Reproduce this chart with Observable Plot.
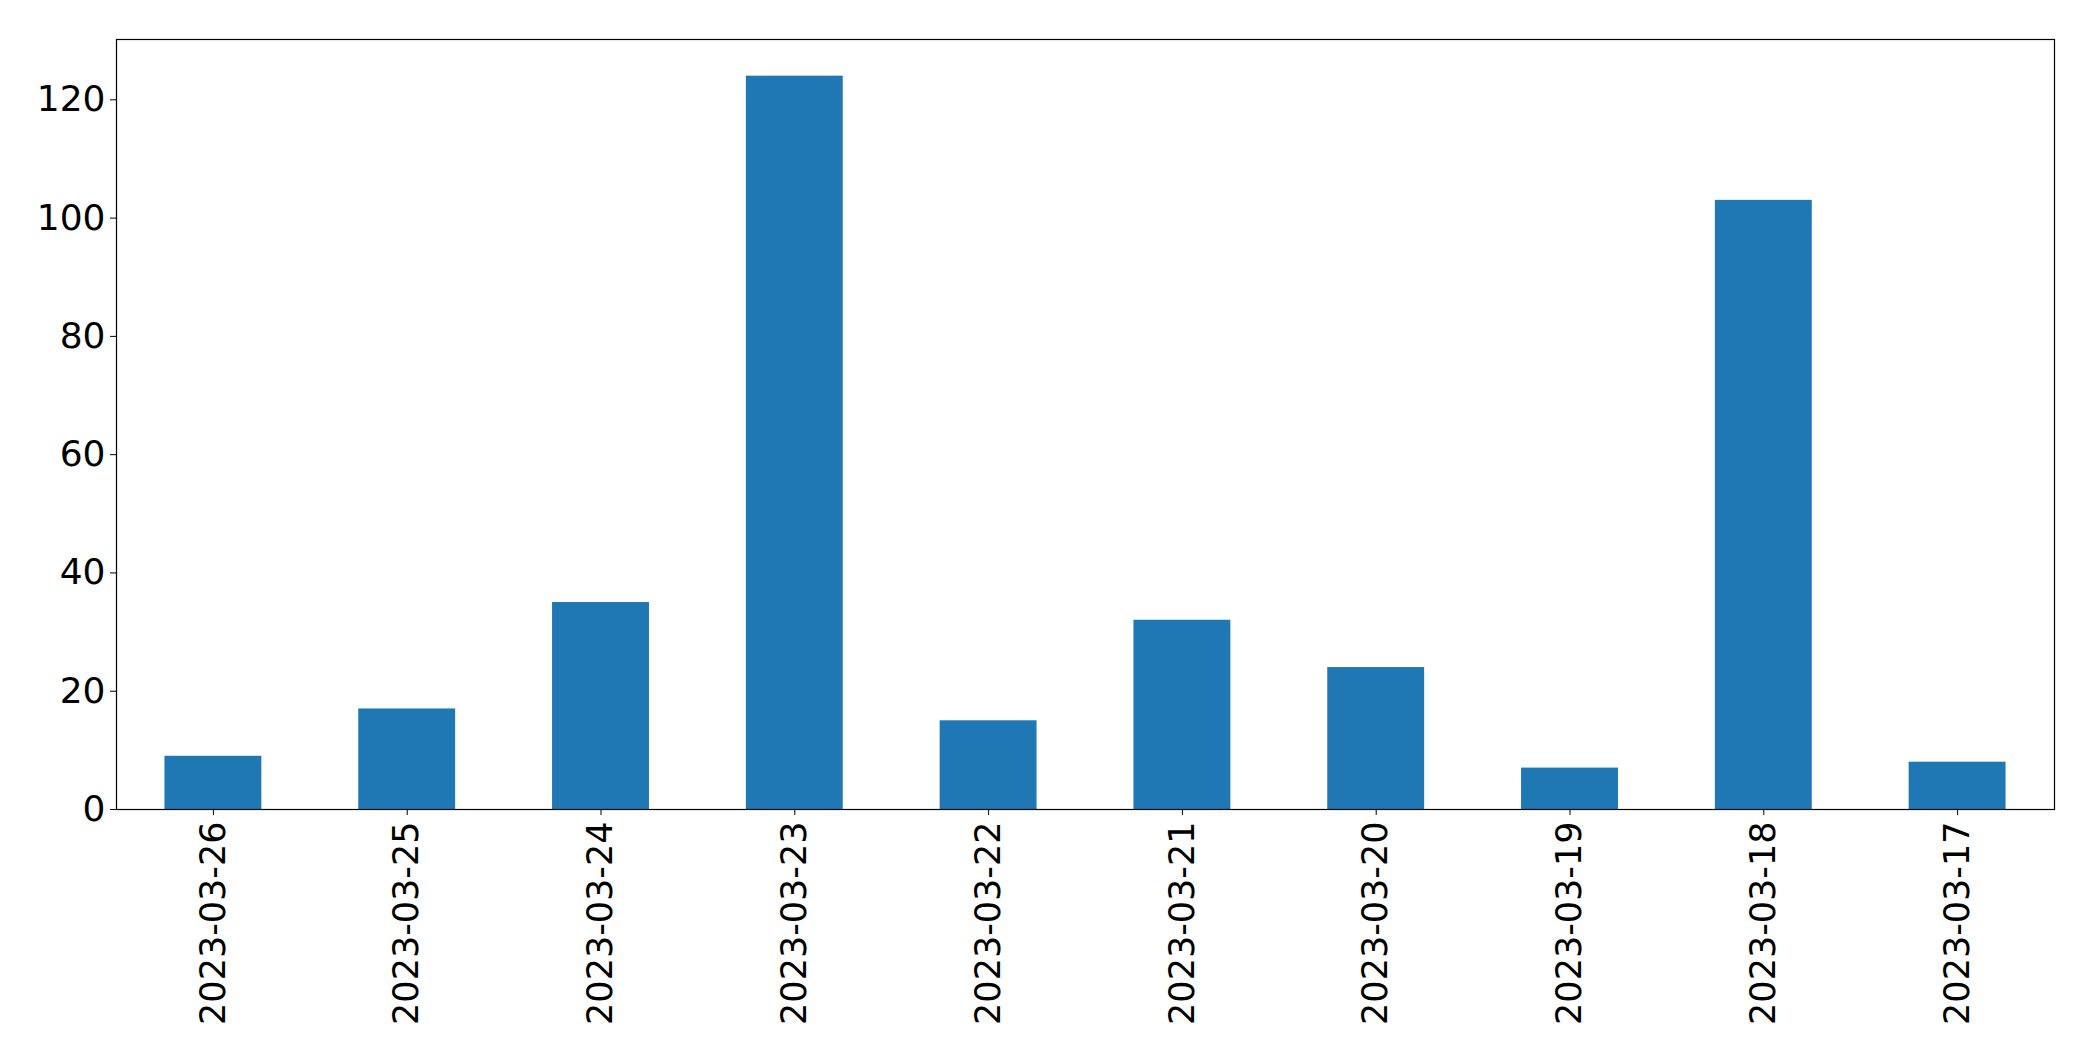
<!DOCTYPE html>
<html>
<head>
<meta charset="utf-8">
<script src="https://cdn.jsdelivr.net/npm/d3@7"></script>
<script src="https://cdn.jsdelivr.net/npm/@observablehq/plot@0.6"></script>
<style>
  html, body { margin: 0; padding: 0; background: #fff; }
  svg { display: block; }
</style>
</head>
<body>
<div id="chart"></div>
<script>
const dates = ["2023-03-26","2023-03-25","2023-03-24","2023-03-23","2023-03-22","2023-03-21","2023-03-20","2023-03-19","2023-03-18","2023-03-17"];
const counts = [9, 17, 35, 124, 15, 32, 24, 7, 103, 8];
const yTicks = [0, 20, 40, 60, 80, 100, 120];

const data = dates.map((d, i) => ({date: d, count: counts[i]}));

const chart = Plot.plot({
  width: 2093,
  height: 1061,
  marginLeft: 116,
  marginRight: 39,
  marginTop: 39,
  marginBottom: 252,
  style: {fontFamily: "DejaVu Sans", fontSize: "35px", color: "#000", background: "#fff"},
  x: {domain: dates, paddingInner: 0.5, paddingOuter: 0.25, round: false, label: null},
  y: {domain: [0, 130.2], label: null},
  marks: [
    Plot.barY(data, {x: "date", y: "count", fill: "#1f77b4"}),
    Plot.axisY({ticks: yTicks, tickSize: 6, tickPadding: 5, fontSize: 36, label: null, stroke: "#000"}),
    Plot.axisX({tickRotate: -90, tickSize: 6, tickPadding: 6, fontSize: 35, label: null, stroke: "#000"}),
    Plot.frame({stroke: "#000", strokeWidth: 1.2})
  ]
});
document.getElementById("chart").appendChild(chart);
</script>
</body>
</html>
